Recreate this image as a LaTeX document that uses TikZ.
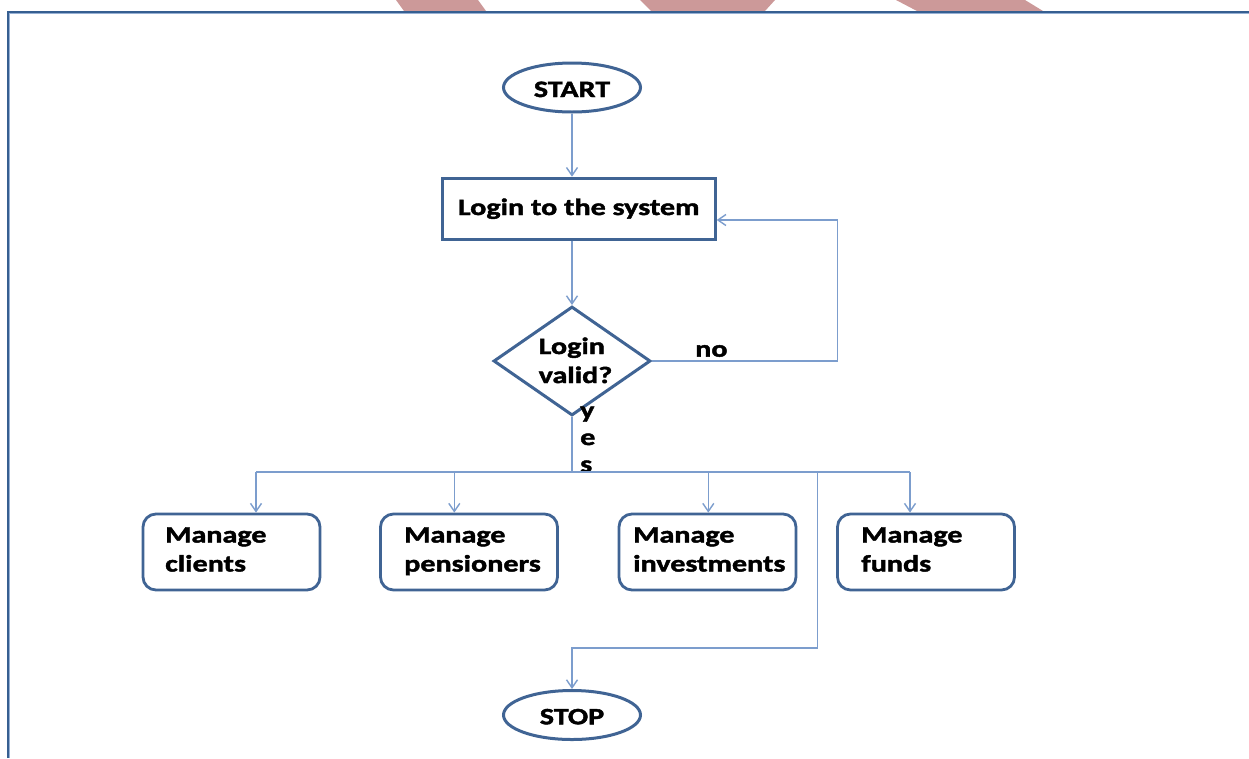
\documentclass[tikz,border=0pt]{standalone}
\usepackage{fontspec}
\setmainfont{Carlito}[FakeStretch=1.28, BoldFeatures={FakeBold=1.8}]
\usetikzlibrary{shapes.geometric,arrows.meta}

\definecolor{nodeblue}{RGB}{64,100,148}
\definecolor{linkblue}{RGB}{124,157,205}
\definecolor{frameblue}{RGB}{54,95,145}
\definecolor{framelight}{RGB}{150,176,212}
\definecolor{ribbon}{RGB}{204,153,153}

\newcommand\chartfont{\fontsize{23.5}{29}\selectfont\bfseries}

\begin{document}
\begin{tikzpicture}[x=1pt,y=-1pt,
  every node/.style={font=\chartfont},
  terminal/.style={ellipse, draw=nodeblue, line width=3, minimum width=137, minimum height=49, inner sep=0},
  process/.style={rectangle, draw=nodeblue, line width=3, minimum width=273, minimum height=61},
  decision/.style={diamond, draw=nodeblue, line width=3, minimum width=157, minimum height=109, inner sep=0},
  task/.style={rectangle, rounded corners=13, draw=nodeblue, line width=2.8, minimum width=177, minimum height=76},
  lbl/.style={anchor=base west, align=left, inner sep=0},
  link/.style={draw=linkblue, line width=1.4},
  arr/.style={link, -{Straight Barb[length=8,width=11]}}]

% page and frame
\fill[white] (0,0) rectangle (1249,758);
\useasboundingbox (0,0) rectangle (1249,758);
\fill[ribbon] (396,0) -- (478,0) -- (486,11) -- (404,11) -- cycle;
\fill[ribbon] (640,0) -- (775,0) -- (765,11) -- (651,11) -- cycle;
\fill[ribbon] (896,0) -- (1025,0) -- (1043,11) -- (917,11) -- cycle;
\draw[frameblue, line width=2] (8.2,758) -- (8.2,11.8) -- (1249,11.8);
\draw[framelight, line width=0.9] (9.7,758) -- (9.7,13.4) -- (1249,13.4);

% nodes (multi-line labels are placed by the baseline of their last line)
\node[terminal, text height=19, text depth=0] (start) at (572,87.5) {START};
\node[process, text height=17, text depth=4.4] (login) at (578.7,208.7) {Login to the system};
\node[decision] (valid) at (572,361) {};
\node[lbl] (validtext) at (538.5,383) {Login\\valid?};
\node[lbl] (nolbl) at (695,356.7) {no};
\node[lbl, font=\fontsize{23.5}{27}\selectfont\bfseries] (yeslbl) at (580,472) {y\\e\\s};

\node[task] (clients) at (231.5,552) {};
\node[lbl] (clientstext) at (165,571.5) {Manage\\clients};
\node[task] (pensioners) at (469,552) {};
\node[lbl] (pensionerstext) at (404,571.5) {Manage\\pensioners};
\node[task] (investments) at (707.5,552) {};
\node[lbl] (investmentstext) at (633,571.5) {Manage\\investments};
\node[task] (funds) at (926,552) {};
\node[lbl] (fundstext) at (861,571.5) {Manage\\funds};

\node[terminal, text height=18.6, text depth=0] (stop) at (572,715) {STOP};

% connector bends
\coordinate (noturn) at (837.7,361);
\coordinate (loginin) at ([yshift=-11.3pt]login.east);
\coordinate (bus) at (572,472);
\coordinate (busL) at (256,472);
\coordinate (drop2) at (454.3,472);
\coordinate (drop3) at (708.3,472);
\coordinate (stopdrop) at (817.3,472);
\coordinate (busR) at (910,472);

% connectors
\draw[arr] (start.south) -- (start.south |- login.north);
\draw[arr] (login.south -| valid.north) -- (valid.north);
\draw[arr] (valid.east) -- (noturn) |- (loginin);
\draw[link] (valid.south) -- (bus);
\draw[link] (busL) -- (busR);
\draw[arr] (busL) -- (busL |- clients.north);
\draw[arr] (drop2) -- (drop2 |- pensioners.north);
\draw[arr] (drop3) -- (drop3 |- investments.north);
\draw[arr] (busR) -- (busR |- funds.north);
\draw[arr] (stopdrop) -- ++(0,176) -| (stop.north);
\end{tikzpicture}
\end{document}
